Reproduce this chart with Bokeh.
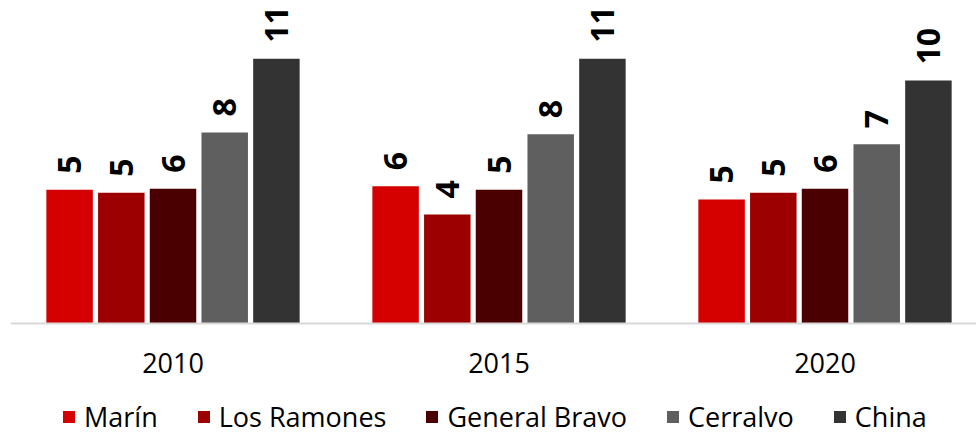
import math
from bokeh.plotting import figure
from bokeh.models import Range1d, Legend, LegendItem, Span
from bokeh.core.properties import value
from bokeh.embed import file_html
from bokeh.resources import INLINE

years = ["2010", "2015", "2020"]
series = ["Marín", "Los Ramones", "General Bravo", "Cerralvo", "China"]
marin = [5.48, 5.63, 5.08]
los_ramones = [5.36, 4.47, 5.36]
general_bravo = [5.52, 5.48, 5.52]
cerralvo = [7.83, 7.76, 7.35]
china = [10.85, 10.85, 9.96]
colors = ["#d50000", "#9c0000", "#4a0000", "#5f5f5f", "#333333"]

all_values = [marin, los_ramones, general_bravo, cerralvo, china]

pitch = 0.1586
bar_w = 0.1426
px_per_unit = 24.4

p = figure(frame_width=966, frame_height=427,
           x_range=Range1d(0.0015, 0.0015 + 966 / 326),
           y_range=Range1d(-112 / px_per_unit, 315 / px_per_unit),
           output_backend="svg", toolbar_location=None,
           min_border_left=10, min_border_right=0, min_border_top=8, min_border_bottom=0)

items = []
for i, (name, vals, col) in enumerate(zip(series, all_values, colors)):
    xs = [j + 0.5 + (i - 2) * pitch for j in range(len(years))]
    r = p.vbar(x=xs, top=vals, bottom=0, width=bar_w, fill_color=col, line_color=None)
    items.append(LegendItem(label=name, renderers=[r]))
    p.text(x=xs, y=vals, text=[f"{v:.0f}" for v in vals], angle=math.pi / 2,
           text_align="left", text_baseline="middle", y_offset=-16,
           text_font=value("Open Sans"), text_font_style="bold",
           text_font_size="32px", text_color="black")

# category axis: baseline and year labels
p.add_layout(Span(location=0, dimension="width", line_color="#d9d9d9", line_width=2))
p.text(x=[j + 0.5 for j in range(len(years))], y=[0] * len(years), text=years,
       text_align="center", text_baseline="middle", y_offset=39,
       text_font=value("Open Sans"), text_font_size="27px", text_color="black")

p.xaxis.visible = False
p.yaxis.visible = False
p.xgrid.visible = False
p.ygrid.visible = False
p.outline_line_color = None
p.background_fill_color = "white"
p.border_fill_color = "white"

legend = Legend(items=items, orientation="horizontal", location=(51, 0),
                glyph_width=15, glyph_height=15, label_standoff=8, spacing=38,
                padding=0, margin=0, border_line_alpha=0, background_fill_alpha=0,
                label_text_font="Open Sans", label_text_font_size="27px",
                label_text_color="black")
p.add_layout(legend, "center")

open("out.html", "w").write(file_html(p, INLINE))
